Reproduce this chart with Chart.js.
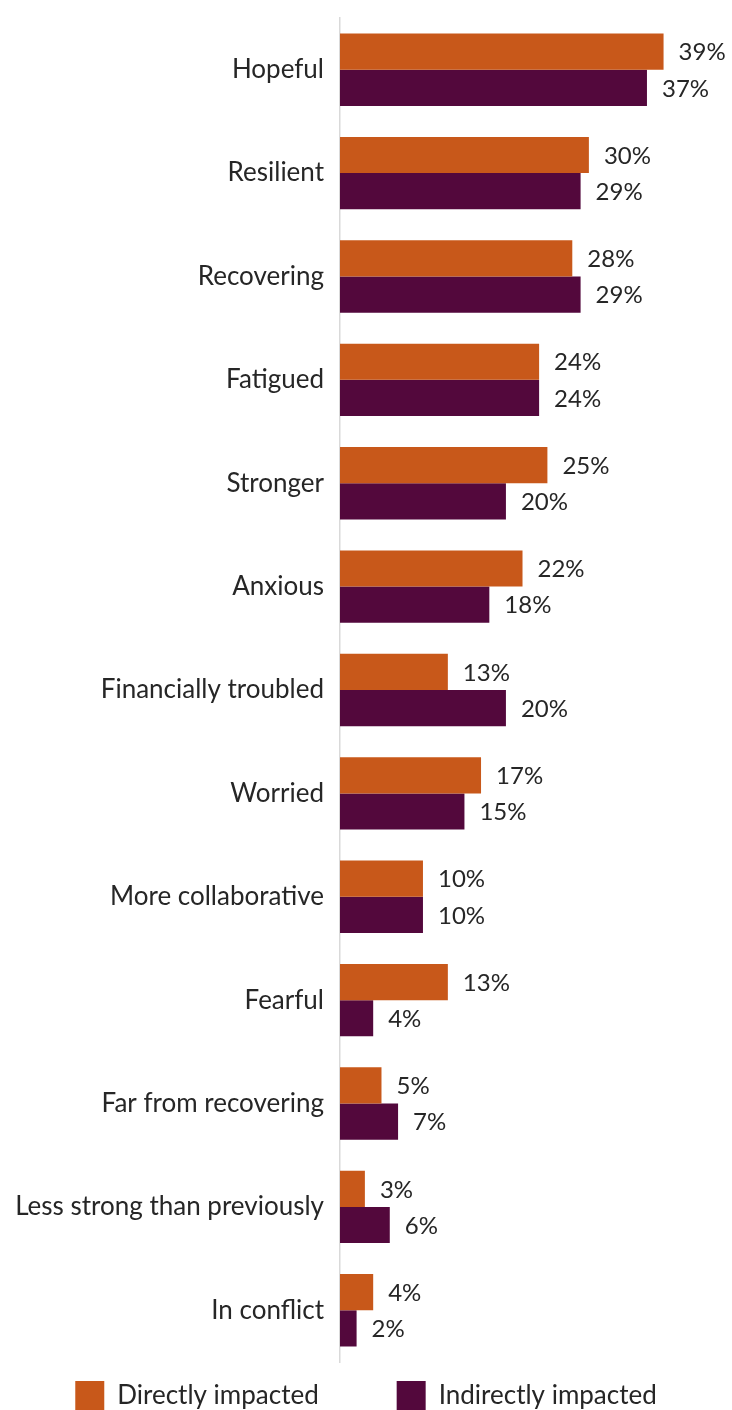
<!DOCTYPE html>
<html>
<head>
<meta charset="utf-8">
<script src="https://cdn.jsdelivr.net/npm/chart.js@4/dist/chart.umd.min.js"></script>
<style>
  html, body { margin: 0; padding: 0; background: #fff; overflow: hidden; }
  #wrap { position: relative; width: 732px; height: 1420px; }
</style>
</head>
<body>
<div id="wrap"><canvas id="chart"></canvas></div>
<script>
const categories = [
  "Hopeful", "Resilient", "Recovering", "Fatigued", "Stronger", "Anxious",
  "Financially troubled", "Worried", "More collaborative", "Fearful",
  "Far from recovering", "Less strong than previously", "In conflict"
];
const directlyImpacted = [39, 30, 28, 24, 25, 22, 13, 17, 10, 13, 5, 3, 4];
const indirectlyImpacted = [37, 29, 29, 24, 20, 18, 20, 15, 10, 4, 7, 6, 2];
const seriesNames = ["Directly impacted", "Indirectly impacted"];
const seriesColors = ["#C8581A", "#53083C"];

const FONT = "Lato";
const TEXT = "#262626";

// percent labels just past the end of each bar
const valueLabels = {
  id: "valueLabels",
  afterDatasetsDraw(chart) {
    const ctx = chart.ctx;
    ctx.save();
    ctx.font = `24px ${FONT}`;
    ctx.fillStyle = TEXT;
    ctx.textAlign = "left";
    ctx.textBaseline = "middle";
    chart.data.datasets.forEach((ds, i) => {
      chart.getDatasetMeta(i).data.forEach((bar, j) => {
        ctx.fillText(ds.data[j] + "%", bar.x + 15, bar.y + 1);
      });
    });
    ctx.restore();
  }
};

new Chart(document.getElementById("chart"), {
  type: "bar",
  data: {
    labels: categories,
    datasets: [
      { label: seriesNames[0], data: directlyImpacted, backgroundColor: seriesColors[0] },
      { label: seriesNames[1], data: indirectlyImpacted, backgroundColor: seriesColors[1] }
    ]
  },
  options: {
    indexAxis: "y",
    responsive: true,
    maintainAspectRatio: false,
    animation: false,
    datasets: { bar: { categoryPercentage: 0.7, barPercentage: 1.0 } },
    layout: { padding: { top: 18, right: 0, left: 0, bottom: 0 } },
    scales: {
      x: { display: false, min: 0, max: 47.25 },
      y: {
        grid: { display: false, drawTicks: false },
        border: { display: true, color: "#d9d9d9", width: 1.5 },
        ticks: { color: TEXT, font: { family: FONT, size: 26 }, padding: 16 },
        afterFit(scale) {
          scale.width = 340;
          scale.paddingTop = 0;
        }
      }
    },
    plugins: {
      tooltip: { enabled: false },
      legend: {
        position: "bottom",
        labels: {
          boxWidth: 29,
          boxHeight: 29,
          padding: 19,
          color: TEXT,
          font: { family: FONT, size: 26 },
          generateLabels(chart) {
            const items = Chart.defaults.plugins.legend.labels.generateLabels(chart);
            // wider gap after the first entry, like the original
            items[0].text += "\u2003\u2003   ";
            return items;
          }
        }
      }
    }
  },
  plugins: [valueLabels]
});
</script>
</body>
</html>
